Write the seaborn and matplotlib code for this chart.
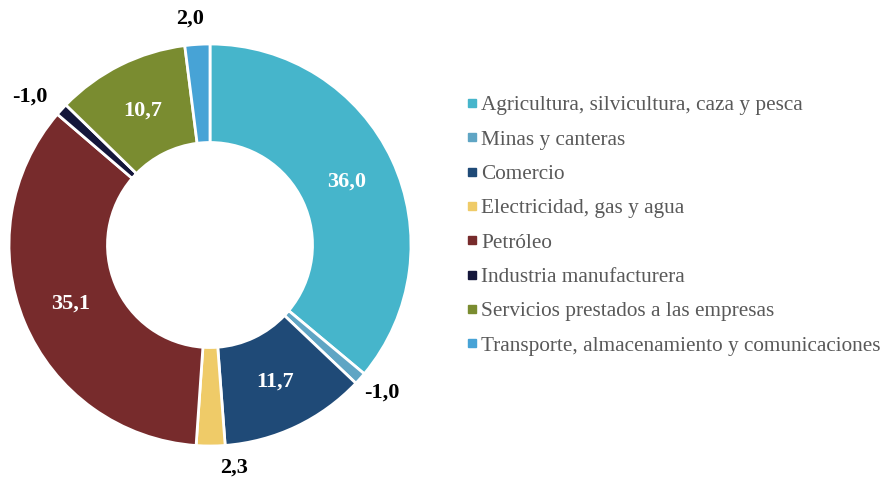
import numpy as np
import matplotlib.pyplot as plt
import seaborn as sns
from matplotlib.lines import Line2D

sectores = [
    "Agricultura, silvicultura, caza y pesca",
    "Minas y canteras",
    "Comercio",
    "Electricidad, gas y agua",
    "Petróleo",
    "Industria manufacturera",
    "Servicios prestados a las empresas",
    "Transporte, almacenamiento y comunicaciones",
]
valores = [36.0, -1.0, 11.7, 2.3, 35.1, -1.0, 10.7, 2.0]
colores = ["#46b5cb", "#5fa5c4", "#1f4a77", "#efcb68",
           "#772b2c", "#14163a", "#7a8c30", "#47a3d6"]
# pequeño giro (grados) de las etiquetas exteriores para que no choquen
giro_etiqueta = [0, 1, 0, 6, 0, 2.8, 0, 1.5]

sns.set_theme(style="white")
plt.rcParams['font.family'] = ['Liberation Serif', 'DejaVu Serif']

fig = plt.figure(figsize=(8.85, 4.78), dpi=100)
ax = fig.add_axes([9 / 885, 32 / 478, 402 / 885, 402 / 478])

tamanos = np.abs(valores)
wedges, _ = ax.pie(tamanos, colors=colores, startangle=90, counterclock=False,
                   radius=1.0, wedgeprops=dict(width=0.49, edgecolor="white", linewidth=2))
ax.set_xlim(-1, 1)
ax.set_ylim(-1, 1)
ax.set_aspect("equal")

# etiquetas: grandes dentro (blanco), pequeñas fuera (negro)
for w, v, g in zip(wedges, valores, giro_etiqueta):
    ang = np.deg2rad((w.theta1 + w.theta2) / 2 + g)
    txt = f"{v:.1f}".replace(".", ",")
    if abs(v) >= 5:
        r, col = 0.75, "white"
    else:
        r, col = 1.13, "black"
        if abs(np.cos(ang)) > 0.5 and np.sin(ang) > 0:
            r = 1.16
        elif np.sin(ang) < -0.9:
            r = 1.115
    ax.text(r * np.cos(ang), r * np.sin(ang), txt, ha="center", va="center",
            color=col, fontsize=16, fontweight="bold")

handles = [Line2D([0], [0], marker="s", linestyle="none", markersize=5.7,
                  markerfacecolor=c, markeredgecolor=c) for c in colores]
leg = fig.legend(handles, sectores, loc="center left", bbox_to_anchor=(466.5 / 885, 0.528),
                 frameon=False, fontsize=15.3, labelspacing=0.68, handletextpad=0.2,
                 handlelength=0.5, borderaxespad=0, borderpad=0)
for t in leg.get_texts():
    t.set_color("#595959")

fig.savefig("out.png", dpi=100)
